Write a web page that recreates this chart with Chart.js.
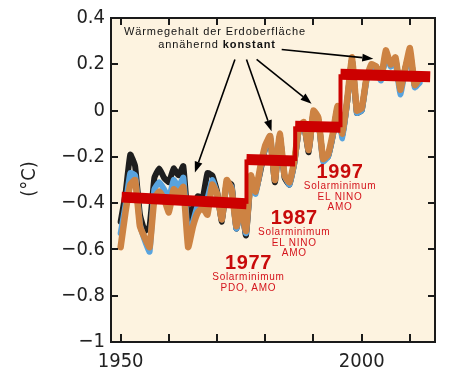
<!DOCTYPE html>
<html><head><meta charset="utf-8">
<script src="https://cdn.jsdelivr.net/npm/chart.js@4"></script>
<style>html,body{margin:0;padding:0;background:#fff}</style>
</head><body>
<canvas id="c" width="450" height="381"></canvas>
<script>
const years = [1950,1951,1952,1953,1954,1955,1956,1957,1958,1959,
  1960,1961,1962,1963,1964,1965,1966,1967,1968,1969,
  1970,1971,1972,1973,1974,1975,1976,1977,1978,1979,
  1980,1981,1982,1983,1984,1985,1986,1987,1988,1989,
  1990,1991,1992,1993,1994,1995,1996,1997,1998,1999,
  2000,2001,2002,2003,2004,2005,2006,2007,2008,2009,
  2010,2011,2012];
const seriesBlack = [-0.48,-0.36,-0.19,-0.24,-0.45,-0.52,-0.50,-0.29,-0.25,-0.29,
  -0.31,-0.25,-0.28,-0.24,-0.48,-0.42,-0.37,-0.38,-0.27,-0.28,
  -0.35,-0.48,-0.31,-0.32,-0.51,-0.41,-0.54,-0.30,-0.35,-0.26,
  -0.16,-0.12,-0.31,-0.11,-0.29,-0.32,-0.23,-0.08,-0.06,-0.18,
  -0.01,-0.04,-0.21,-0.20,-0.11,0.01,-0.11,0.04,0.22,-0.01,
  0.00,0.14,0.19,0.19,0.14,0.24,0.20,0.22,0.09,0.18,
  0.25,0.11,0.13];
const seriesBlue = [-0.53,-0.41,-0.27,-0.28,-0.49,-0.56,-0.61,-0.34,-0.31,-0.34,
  -0.38,-0.30,-0.33,-0.29,-0.55,-0.48,-0.41,-0.40,-0.38,-0.30,
  -0.36,-0.47,-0.31,-0.33,-0.51,-0.42,-0.53,-0.29,-0.36,-0.25,
  -0.16,-0.11,-0.30,-0.11,-0.28,-0.32,-0.23,-0.08,-0.06,-0.17,
  -0.01,-0.04,-0.22,-0.20,-0.11,0.01,-0.12,0.04,0.22,-0.01,
  0.00,0.13,0.18,0.18,0.13,0.24,0.19,0.21,0.07,0.17,
  0.24,0.10,0.12];
const seriesOrange = [-0.59,-0.44,-0.32,-0.30,-0.50,-0.55,-0.59,-0.38,-0.35,-0.38,
  -0.44,-0.34,-0.36,-0.33,-0.59,-0.50,-0.44,-0.42,-0.45,-0.32,
  -0.36,-0.47,-0.30,-0.34,-0.50,-0.42,-0.52,-0.28,-0.35,-0.24,
  -0.15,-0.11,-0.30,-0.10,-0.28,-0.31,-0.22,-0.07,-0.05,-0.17,
  0.00,-0.03,-0.21,-0.19,-0.10,0.02,-0.10,0.05,0.23,0.00,
  0.01,0.14,0.20,0.19,0.14,0.26,0.20,0.23,0.09,0.18,
  0.27,0.11,0.14];
const stepYears = [1950.2,1976.1,1976.1,1986.2,1986.2,1995.6,1995.6,2014.2];
const stepValues = [-0.374,-0.403,-0.211,-0.218,-0.068,-0.072,0.157,0.146];
const xLabelYears = [1950, 2000];
const yAxisTitle = '(°C)';
const noteLine1 = 'Wärmegehalt der Erdoberfläche';
const noteLine2a = 'annähernd ';
const noteLine2b = 'konstant';
// arrows: [fromYear, fromValue, toYear, toValue]
const arrows = [
  [1973.7, 0.221, 1965.4, -0.268],
  [1976.1, 0.221, 1981.3, -0.089],
  [1978.2, 0.221, 1989.6, 0.030],
  [1983.4, 0.264, 2002.4, 0.224]
];
// event labels: [centerYear, value of year-line, title, lines]
const events = [
  [1976.5, -0.660, '1977', ['Solarminimum','PDO, AMO']],
  [1986.0, -0.467, '1987', ['Solarminimum','EL NINO','AMO']],
  [1995.5, -0.268, '1997', ['Solarminimum','EL NINO','AMO']]
];

const toPts = (xs, ys) => xs.map((x, i) => ({x: x, y: ys[i]}));
const AX = '"DejaVu Sans Condensed","DejaVu Sans",sans-serif';

const deco = {
  id: 'deco',
  beforeDatasetsDraw(chart) {
    const {ctx, chartArea: a} = chart;
    ctx.save();
    ctx.fillStyle = '#fdf3e0';
    ctx.fillRect(a.left, a.top, a.right - a.left, a.bottom - a.top);
    ctx.restore();
  },
  afterDatasetsDraw(chart) {
    const {ctx, chartArea: a, scales} = chart;
    const xs = scales.x, ys = scales.y;
    ctx.save();
    // border
    ctx.strokeStyle = '#1a1a1a';
    ctx.lineWidth = 2;
    ctx.strokeRect(a.left, a.top, a.right - a.left, a.bottom - a.top);
    // inward ticks
    ctx.lineWidth = 2;
    ctx.beginPath();
    xs.ticks.forEach(t => {
      const px = Math.round(xs.getPixelForValue(t.value));
      ctx.moveTo(px, a.bottom); ctx.lineTo(px, a.bottom - 8);
      ctx.moveTo(px, a.top); ctx.lineTo(px, a.top + 7);
    });
    ys.ticks.forEach(t => {
      const py = Math.round(ys.getPixelForValue(t.value));
      ctx.moveTo(a.left, py); ctx.lineTo(a.left + 7, py);
      ctx.moveTo(a.right, py); ctx.lineTo(a.right - 7, py);
    });
    ctx.stroke();

    // arrows
    ctx.fillStyle = '#000';
    ctx.strokeStyle = '#000';
    arrows.forEach(([x0, v0, x1, v1]) => {
      const X0 = xs.getPixelForValue(x0), Y0 = ys.getPixelForValue(v0);
      const X1 = xs.getPixelForValue(x1), Y1 = ys.getPixelForValue(v1);
      const ang = Math.atan2(Y1 - Y0, X1 - X0);
      const hl = 11, hw = 4;
      const bx = X1 - hl * Math.cos(ang), by = Y1 - hl * Math.sin(ang);
      ctx.lineWidth = 1.6;
      ctx.beginPath(); ctx.moveTo(X0, Y0); ctx.lineTo(bx, by); ctx.stroke();
      ctx.beginPath();
      ctx.moveTo(X1, Y1);
      ctx.lineTo(bx + hw * Math.sin(ang), by - hw * Math.cos(ang));
      ctx.lineTo(bx - hw * Math.sin(ang), by + hw * Math.cos(ang));
      ctx.closePath(); ctx.fill();
    });

    // note text
    ctx.fillStyle = '#111';
    ctx.textBaseline = 'middle';
    ctx.letterSpacing = '0.9px';
    const nf = '11px "Liberation Sans", Arial, sans-serif';
    const nb = 'bold 11px "Liberation Sans", Arial, sans-serif';
    ctx.font = nf;
    ctx.textAlign = 'center';
    ctx.fillText(noteLine1, 215, 32);
    ctx.textAlign = 'left';
    const w1 = ctx.measureText(noteLine2a).width;
    ctx.font = nb;
    const w2 = ctx.measureText(noteLine2b).width;
    const sx = 217 - (w1 + w2) / 2;
    ctx.font = nf;
    ctx.fillText(noteLine2a, sx, 45);
    ctx.font = nb;
    ctx.fillText(noteLine2b, sx + w1, 45);

    // event labels
    ctx.textAlign = 'center';
    events.forEach(([yr, v, title, lines]) => {
      const cx = xs.getPixelForValue(yr), cy = ys.getPixelForValue(v);
      ctx.fillStyle = '#c80a0a';
      ctx.letterSpacing = '0.6px';
      ctx.font = 'bold 20px "Liberation Sans", Arial, sans-serif';
      ctx.fillText(title, cx, cy);
      ctx.fillStyle = '#d4141c';
      ctx.letterSpacing = '0.7px';
      ctx.font = '10px "Liberation Sans", Arial, sans-serif';
      lines.forEach((ln, i) => ctx.fillText(ln, cx, cy + 14 + i * 10.5));
    });
    ctx.letterSpacing = '0px';

    // y axis title
    ctx.fillStyle = '#222';
    ctx.font = '20px ' + AX;
    ctx.translate(30, 179);
    ctx.rotate(-Math.PI / 2);
    ctx.textAlign = 'center';
    ctx.textBaseline = 'middle';
    ctx.fillText(yAxisTitle, 0, 0);
    ctx.restore();
  }
};

new Chart(document.getElementById('c'), {
  type: 'line',
  data: {
    datasets: [
      {
        data: toPts(stepYears, stepValues),
        borderColor: '#cc0000',
        borderWidth: 11,
        borderCapStyle: 'butt',
        borderJoinStyle: 'miter',
        segment: {
          borderWidth: c => (c.p0.parsed.x === c.p1.parsed.x ? 4 : 11)
        },
        pointRadius: 0, tension: 0
      },
      {
        data: toPts(years, seriesOrange),
        borderColor: '#cd8343', borderWidth: 6.5,
        borderJoinStyle: 'round', borderCapStyle: 'round',
        pointRadius: 0, tension: 0.12
      },
      {
        data: toPts(years, seriesBlue),
        borderColor: '#58a3de', borderWidth: 6,
        borderJoinStyle: 'round', borderCapStyle: 'round',
        pointRadius: 0, tension: 0.12
      },
      {
        data: toPts(years, seriesBlack),
        borderColor: '#1e1e1e', borderWidth: 6,
        borderJoinStyle: 'round', borderCapStyle: 'round',
        pointRadius: 0, tension: 0.12
      }
    ]
  },
  options: {
    responsive: false,
    devicePixelRatio: 1,
    animation: false,
    layout: {padding: {left: 0, right: 15, top: 13, bottom: 0}},
    plugins: {legend: {display: false}, tooltip: {enabled: false}},
    scales: {
      x: {
        type: 'linear', min: 1948, max: 2015.2,
        grid: {display: false, drawTicks: false},
        border: {display: false},
        ticks: {
          stepSize: 10, includeBounds: false, autoSkip: false, maxRotation: 0,
          padding: 8, color: '#222', font: {family: AX, size: 20},
          callback: v => (xLabelYears.includes(v) ? String(v) : '')
        },
        afterFit: s => { s.height = 39; }
      },
      y: {
        min: -1, max: 0.4,
        grid: {display: false, drawTicks: false},
        border: {display: false},
        ticks: {
          stepSize: 0.2, padding: 6, color: '#222', font: {family: AX, size: 20},
          callback: v => { const r = Math.round(v * 10) / 10; return (r === 0 ? '0' : String(r)).replace('-', '\u2212'); }
        },
        afterFit: s => { s.width = 111; }
      }
    }
  },
  plugins: [deco]
});
</script>
</body></html>
